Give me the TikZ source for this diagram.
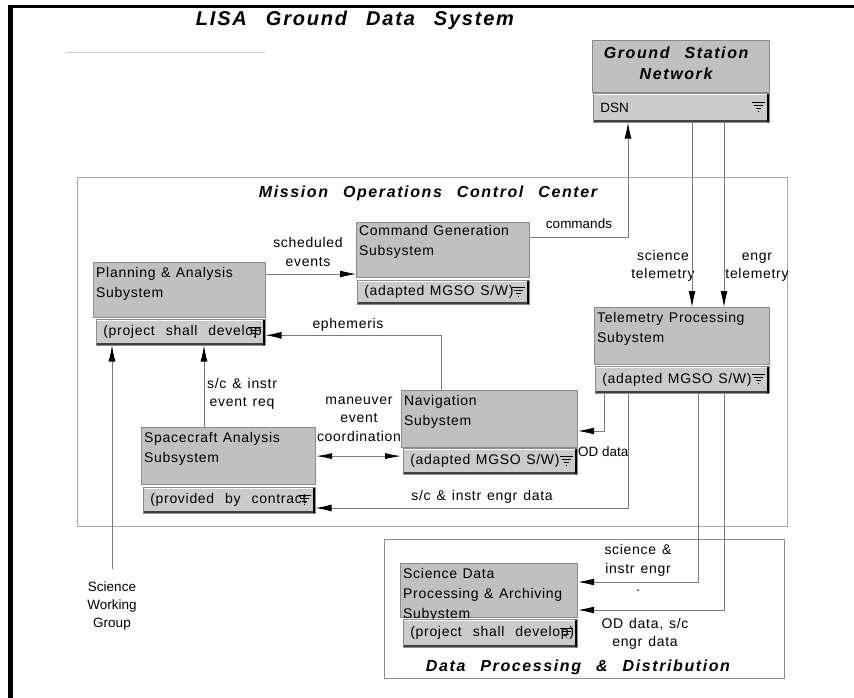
\documentclass[tikz,border=0pt]{standalone}
\usepackage{fontspec}
\setmainfont{Liberation Sans}
\usetikzlibrary{positioning,arrows.meta,calc}
\definecolor{boxgray}{HTML}{C0C0C0}
\definecolor{subgray}{HTML}{CBCBCB}
\definecolor{boxedge}{HTML}{8C8C8C}
\definecolor{linegray}{HTML}{7A7A7A}
\definecolor{framegray}{HTML}{A8A8A8}
\newcommand\boxfont{\fontsize{14}{20}\selectfont\addfontfeature{LetterSpace=5}\spaceskip=5.5pt\relax}
\newcommand\widefont{\fontsize{14}{20}\selectfont\addfontfeature{LetterSpace=5}\spaceskip=11pt\relax}
\newcommand\lblfont{\fontsize{14}{18.5}\selectfont\addfontfeature{LetterSpace=5}\spaceskip=6pt\relax}
\newcommand\plainfont{\fontsize{13.5}{18}\selectfont}
\newcommand\headfont{\fontsize{16}{21.5}\selectfont\bfseries\itshape\addfontfeature{LetterSpace=10}\spaceskip=15pt\relax}
\newcommand\bigheadfont{\fontsize{20}{24}\selectfont\bfseries\itshape\addfontfeature{LetterSpace=9}\spaceskip=19pt\relax}
\tikzset{
    % upper part of a subsystem box
    sysbox/.style = {anchor=north west, draw=boxedge, fill=boxgray, line width=1.2pt, inner sep=0pt},
    % text in the upper part
    boxtext/.style = {anchor=north west, align=flush left, font=\boxfont, inner xsep=3pt, inner ysep=5pt},
    headtext/.style = {anchor=north, align=flush center, font=\headfont, inner sep=0pt, yshift=-6.5pt},
    % lower strip of a subsystem box, with its small filter mark
    subbox/.style = {anchor=north west, fill=subgray, draw=boxedge, line width=0.6pt,
        inner xsep=7pt, inner ysep=0pt, font=\boxfont, align=flush left,
        path picture={
            \draw[white, line width=3pt] (path picture bounding box.north west) -- (path picture bounding box.north east);
            \draw[black!75, line width=4pt] (path picture bounding box.south west) -- (path picture bounding box.south east);
            \draw[black, line width=5pt] (path picture bounding box.south east) -- (path picture bounding box.north east);
            \draw[black, line width=0.6pt]
                ([xshift=-17.5pt,yshift=5.5pt]path picture bounding box.east) -- ([xshift=-4.5pt,yshift=5.5pt]path picture bounding box.east)
                ([xshift=-15.5pt,yshift=2.5pt]path picture bounding box.east) -- ([xshift=-6.5pt,yshift=2.5pt]path picture bounding box.east)
                ([xshift=-13.5pt,yshift=-0.5pt]path picture bounding box.east) -- ([xshift=-8.5pt,yshift=-0.5pt]path picture bounding box.east)
                ([xshift=-11.5pt,yshift=-3.5pt]path picture bounding box.east) -- ([xshift=-10.5pt,yshift=-3.5pt]path picture bounding box.east);
        }},
    widetext/.style = {font=\widefont},
    group/.style = {anchor=north west, draw=framegray, line width=1.2pt, inner sep=0pt},
    lbl/.style = {font=\lblfont, align=flush center, inner sep=0pt},
    plainlbl/.style = {font=\plainfont, align=flush center, inner sep=0pt},
    arr/.style = {draw=linegray, line width=0.8pt, -{Latex[length=16pt,width=7pt,color=black]}},
    arrboth/.style = {draw=linegray, line width=0.8pt, {Latex[length=16pt,width=6pt,color=black]}-{Latex[length=16pt,width=6pt,color=black]}}
}

\begin{document}
\begin{tikzpicture}[x=1pt, y=-1pt]
    \useasboundingbox (0,0) rectangle (854,698);

    % page frame
    \draw[line width=5pt] (10.5,5) -- (10.5,698);
    \draw[line width=3.5pt] (8,6.5) -- (854,6.5);

    \node[font=\bigheadfont, anchor=base, inner sep=0pt] (lisa) at (355,26) {LISA Ground Data System};
    \draw[black!20, line width=1pt] (66,53) -- (265,53);

    % groups
    \node[group, minimum width=710pt, minimum height=349pt] (mocc) at (77,177) {};
    \node[group, draw=boxedge, line width=1pt, minimum width=400pt, minimum height=139pt] (dpd) at (384,539) {};
    \node[font=\headfont, anchor=base, inner sep=0pt] (mocctitle) at (428,197) {Mission Operations Control Center};
    \node[font=\headfont, anchor=base, inner sep=0pt] (dpdtitle) at (578,671) {Data Processing \& Distribution};

    % connector labels
    \node[plainlbl] (cmdlbl) at (579,224) {commands};
    \node[lbl] (schedlbl) at (308,252) {scheduled\\events};
    \node[lbl] (ephlbl) at (348,325) {ephemeris};
    \node[lbl] (scitmlbl) at (663,266) {science\\telemetry};
    \node[lbl] (engtmlbl) at (757,267) {engr\\telemetry};
    \node[lbl] (reqlbl) at (242,394) {s/c \& instr\\event req};
    \node[lbl] (manlbl) at (359,419) {maneuver\\event\\coordination};
    \node[plainlbl, anchor=west] (odlbl) at (578,452) {OD data};
    \node[lbl] (engrlbl) at (482,497) {s/c \& instr engr data};
    \node[lbl] (scilbl) at (638,568) {science \&\\instr engr\\.};
    \node[lbl] (odslbl) at (645,634) {OD data, s/c\\engr data};
    \node[plainlbl, anchor=north] (swg) at (112,582) {Science\\Working\\Group};

    % subsystems
    \node[sysbox, minimum width=177pt, minimum height=52pt, label={[headtext, xshift=-5pt]north:Ground Station\\Network}] (gsn) at (592,40) {};
    \node[subbox, font=\plainfont, text width=162pt, minimum height=29pt] (dsn) at (593,93) {DSN};

    \node[sysbox, minimum width=173pt, minimum height=55pt, label={[boxtext, yshift=2pt]north west:Command Generation\\Subsystem}] (cmd) at (356,222) {};
    \node[subbox, text width=158pt, minimum height=24pt] (cmdsub) at (357,280) {(adapted MGSO S/W)};

    \node[sysbox, minimum width=172pt, minimum height=55pt, label={[boxtext]north west:Planning \& Analysis\\Subystem}] (plan) at (93,262) {};
    \node[subbox, widetext, text width=155pt, minimum height=26pt] (plansub) at (96,319) {\mbox{(project shall develop}};

    \node[sysbox, minimum width=175pt, minimum height=57pt, label={[boxtext]north west:Telemetry Processing\\Subystem}] (tlm) at (594,307) {};
    \node[subbox, text width=160pt, minimum height=27pt] (tlmsub) at (595,366) {(adapted MGSO S/W)};

    \node[sysbox, minimum width=176pt, minimum height=57pt, label={[boxtext]north west:Navigation\\Subystem}] (nav) at (401,390) {};
    \node[subbox, text width=160pt, minimum height=26pt] (navsub) at (403,448) {(adapted MGSO S/W)};

    \node[sysbox, minimum width=174pt, minimum height=57pt, label={[boxtext]north west:Spacecraft Analysis\\Subsystem}] (sca) at (141,427) {};
    \node[subbox, widetext, text width=158pt, minimum height=26pt] (scasub) at (143,487) {\mbox{(provided by contract}};

    \node[sysbox, minimum width=177pt, minimum height=54pt, label={[boxtext]north west:Science Data\\Processing \& Archiving\\Subystem}] (sdp) at (400,563) {};
    \node[subbox, widetext, text width=160pt, minimum height=28pt] (sdpsub) at (403,619) {\mbox{(project shall develop)}};

    % connectors
    \coordinate (schedout) at ([yshift=-12pt]plan.north east);
    \draw[arr] (schedout) -- (schedout -| cmd.west);

    \coordinate (cmdout) at ([yshift=-15pt]cmd.north east);
    \coordinate (cmdin) at ([xshift=35pt]dsn.south west);
    \draw[arr] (cmdout) -| (cmdin);

    \coordinate (scitm) at ([xshift=99pt]dsn.south west);
    \draw[arr] (scitm) -- (scitm |- tlm.north);
    \coordinate (engtm) at ([xshift=131pt]dsn.south west);
    \draw[arr] (engtm) -- (engtm |- tlm.north);

    \coordinate (ephout) at ([xshift=40pt]nav.north west);
    \draw[arr] (ephout) |- ([yshift=-3pt]plansub.east);

    \coordinate (reqout) at ([xshift=63pt]sca.north west);
    \draw[arr] (reqout) -- (reqout |- plansub.south);

    \draw[arr, shorten <=13pt] (swg.north) -- (swg.north |- plansub.south);

    \draw[arrboth] (sca.east) -- (sca.east -| nav.west);

    \coordinate (odout) at ([xshift=9pt]tlmsub.south west);
    \draw[arr] (odout) |- ([yshift=-41pt]nav.north east);

    \coordinate (engrout) at ([xshift=33pt]tlmsub.south west);
    \draw[arr] (engrout) |- ([yshift=-21pt]scasub.north east);

    \coordinate (sciout) at ([xshift=103pt]tlmsub.south west);
    \draw[arr] (sciout) |- ([yshift=-19pt]sdp.north east);

    \coordinate (odsout) at ([xshift=129pt]tlmsub.south west);
    \draw[arr] (odsout) |- ([yshift=-47pt]sdp.north east);
\end{tikzpicture}
\end{document}
